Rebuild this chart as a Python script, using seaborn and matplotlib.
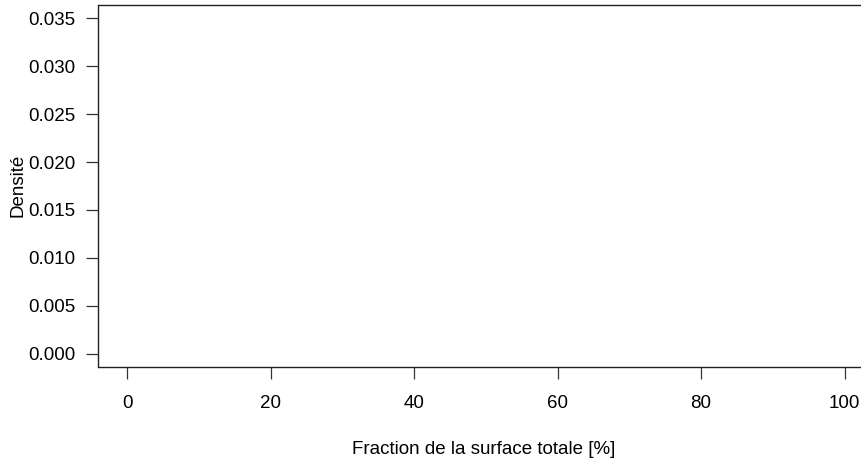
import matplotlib
matplotlib.use("Agg")
import matplotlib.pyplot as plt
import seaborn as sns
import pandas as pd

# Data (the reference chart is an empty density frame)
fraction_values = []
density_values = []
x_ticks = [0, 20, 40, 60, 80, 100]
y_ticks = [0.000, 0.005, 0.010, 0.015, 0.020, 0.025, 0.030, 0.035]
y_tick_labels = ["0.000", "0.005", "0.010", "0.015", "0.020", "0.025", "0.030", "0.035"]
x_label = "Fraction de la surface totale [%]"
y_label = "Densité"

sns.set_theme(style="white")
plt.rcParams['font.family'] = ['Liberation Sans', 'DejaVu Sans']

FS = 13.5
W, H = 862, 461
fig = plt.figure(figsize=(W / 100, H / 100), dpi=100)
left_px, right_px, top_px, bottom_px = 98.5, 873.3, 5, 367
ax = fig.add_axes([left_px / W, 1 - bottom_px / H, (right_px - left_px) / W, (bottom_px - top_px) / H])

df = pd.DataFrame({"x": pd.Series(fraction_values, dtype=float),
                   "y": pd.Series(density_values, dtype=float)})
sns.lineplot(data=df, x="x", y="y", ax=ax, color="black")

ax.set_xlim(-4, 104)
ax.set_ylim(-0.0014, 0.0364)
ax.set_xticks(x_ticks)
ax.set_xticklabels([str(v) for v in x_ticks])
ax.set_yticks(y_ticks)
ax.set_yticklabels(y_tick_labels)

for s in ["left", "top", "bottom"]:
    ax.spines[s].set_visible(True)
    ax.spines[s].set_color("#222222")
    ax.spines[s].set_linewidth(1.0)
ax.spines["right"].set_visible(False)

ax.tick_params(axis="both", which="major", direction="out", length=8.3, width=0.9,
               color="#333333", labelsize=FS, labelcolor="black",
               bottom=True, left=True)
ax.tick_params(axis="y", pad=8.3)
ax.tick_params(axis="x", pad=11.5)
ax.grid(False)
ax.set_facecolor("white")

ax.set_xlabel("")
ax.set_ylabel("")
fig.text(484 / W, 1 - 454 / H, x_label, ha="center", va="baseline", fontsize=FS, color="black")
fig.text(18 / W, 1 - 185 / H, y_label, ha="center", va="center", rotation=90, fontsize=FS, color="black")

fig.savefig("out.png", dpi=100, facecolor="white")
